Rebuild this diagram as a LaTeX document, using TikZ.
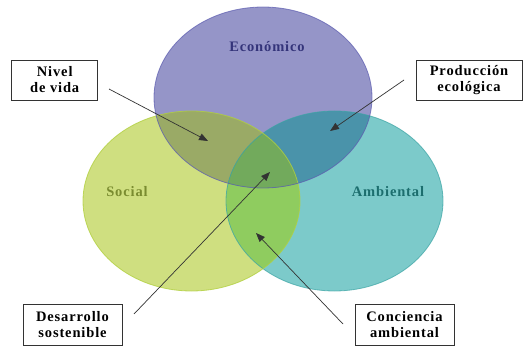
\documentclass[tikz,border=0pt]{standalone}
\usepackage{fontspec}
\setmainfont{Liberation Serif}
\newfontfamily\widefont[LetterSpace=6]{Liberation Serif}
\usetikzlibrary{arrows.meta}
\definecolor{econC}{HTML}{9595C8}
\definecolor{socC}{HTML}{CFDF80}
\definecolor{ambC}{HTML}{7CCACA}
\definecolor{esC}{HTML}{9AAA66}
\definecolor{eaC}{HTML}{4A93AA}
\definecolor{saC}{HTML}{8FCC5F}
\definecolor{allC}{HTML}{72AA5C}
\definecolor{econB}{HTML}{5C5CB0}
\definecolor{socB}{HTML}{B2D040}
\definecolor{ambB}{HTML}{3AA4A4}
\definecolor{econT}{HTML}{34347A}
\definecolor{socT}{HTML}{7A8C30}
\definecolor{ambT}{HTML}{1C6E6E}
\tikzset{
  lbl/.style={font=\widefont\fontsize{14.5}{16}\selectfont\bfseries},
  boxlbl/.style={draw=black!80, line width=0.9pt, fill=white, align=center,
    font=\widefont\fontsize{14.5}{16}\selectfont\bfseries, inner sep=0pt},
  pointer/.style={draw=black!80, line width=0.7pt, -{Triangle[length=9pt,width=7pt]}}
}
\begin{document}
\begin{tikzpicture}[x=1pt,y=-1pt]
\useasboundingbox (0,0) rectangle (527,347);
\fill[white] (0,0) rectangle (527,347);
% base fills
\fill[socC] (191.5,201) ellipse [x radius=108.5, y radius=90];
\fill[ambC] (334.5,201) ellipse [x radius=108.5, y radius=90];
\fill[econC] (263,97.5) ellipse [x radius=109, y radius=90.5];
% overlaps
\begin{scope}
  \clip (191.5,201) ellipse [x radius=108.5, y radius=90];
  \fill[saC] (334.5,201) ellipse [x radius=108.5, y radius=90];
  \fill[esC] (263,97.5) ellipse [x radius=109, y radius=90.5];
\end{scope}
\begin{scope}
  \clip (334.5,201) ellipse [x radius=108.5, y radius=90];
  \fill[eaC] (263,97.5) ellipse [x radius=109, y radius=90.5];
\end{scope}
\begin{scope}
  \clip (191.5,201) ellipse [x radius=108.5, y radius=90];
  \clip (334.5,201) ellipse [x radius=108.5, y radius=90];
  \fill[allC] (263,97.5) ellipse [x radius=109, y radius=90.5];
\end{scope}
% borders
\draw[ambB, line width=0.8pt, draw opacity=0.7] (334.5,201) ellipse [x radius=108.5, y radius=90];
\draw[socB, line width=0.8pt, draw opacity=0.8] (191.5,201) ellipse [x radius=108.5, y radius=90];
\draw[econB, line width=0.8pt, draw opacity=0.7] (263,97.5) ellipse [x radius=109, y radius=90.5];
% set labels
\node[lbl, text=econT] (econ) at (267,47) {Económico};
\node[lbl, text=socT] (soc) at (127,192) {Social};
\node[lbl, text=ambT] (amb) at (388,192) {Ambiental};
% boxes
\node[boxlbl, minimum width=86pt, minimum height=40pt] (nivel) at (54.7,80) {Nivel\\de vida};
\node[boxlbl, minimum width=106pt, minimum height=40pt] (prod) at (469,80) {Producción\\ecológica};
\node[boxlbl, minimum width=99pt, minimum height=41pt] (desa) at (72.5,324.5) {Desarrollo\\sostenible};
\node[boxlbl, minimum width=99pt, minimum height=41pt] (conc) at (404.5,324.5) {Conciencia\\ambiental};
% pointer ends
\coordinate (nivelS) at (109,89);
\coordinate (nivelE) at (208,141);
\coordinate (prodS) at (404,80);
\coordinate (prodE) at (330,131);
\coordinate (desaS) at (134,314);
\coordinate (desaE) at (270,172);
\coordinate (concS) at (343,324);
\coordinate (concE) at (256,233);
\draw[pointer] (nivelS) -- (nivelE);
\draw[pointer] (prodS) -- (prodE);
\draw[pointer] (desaS) -- (desaE);
\draw[pointer] (concS) -- (concE);
\end{tikzpicture}
\end{document}
